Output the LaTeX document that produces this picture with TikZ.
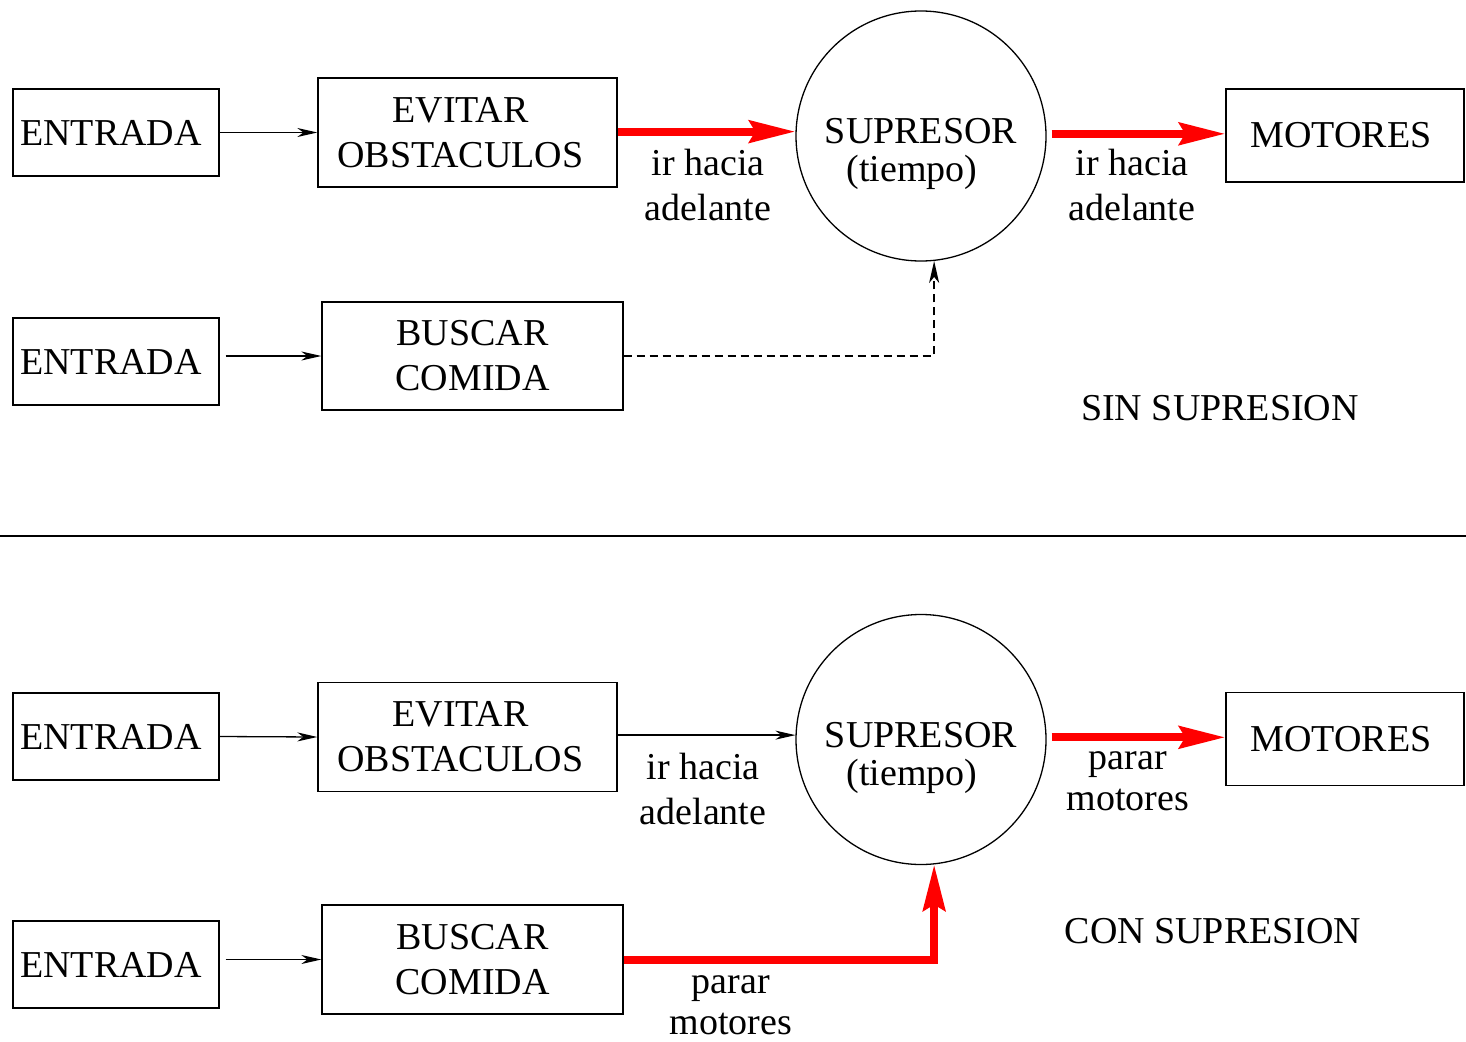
\documentclass[tikz,border=0pt]{standalone}
\usepackage{fontspec}
\setmainfont{Liberation Serif}
\usetikzlibrary{arrows.meta}
\begin{document}
\begin{tikzpicture}[x=1pt,y=-1pt,
  font=\fontsize{38}{45}\selectfont,
  bx/.style={draw, line width=1.3pt, inner sep=0pt, align=center},
  sup/.style={draw, circle, line width=1.3pt, inner sep=0pt, minimum size=250pt},
  lbl/.style={inner sep=0pt, align=center},
  thinarrow/.style={line width=1.3pt, -{Stealth[length=20pt, width=9pt, inset=6pt]}},
  redarrow/.style={draw=red, line width=8pt, -{Stealth[length=46pt, width=22pt, inset=6pt]}, red},
  dashline/.style={line width=1.3pt, dash pattern=on 8pt off 5pt, -{Stealth[length=22pt, width=10pt, inset=6pt]}}
]
\useasboundingbox (0,0) rectangle (1466,1041);

% ---------- top panel ----------
\node[bx, minimum width=206pt, minimum height=87pt] (e1) at (116,132.5) {\raisebox{-4pt}{ENTRADA}\hspace*{10pt}};
\node[bx, minimum width=299pt, minimum height=109pt] (ev1) at (467.5,132.5) {EVITAR\hspace*{14pt}\\OBSTACULOS\hspace*{14pt}};
\node[sup] (s1) at (921,136) {};
\node[lbl] (s1a) at (921,131) {SUPRESOR};
\node[lbl] (s1b) at (912,172) {(tiempo)};
\node[bx, minimum width=238pt, minimum height=93pt] (m1) at (1345,135.5) {\raisebox{-2pt}{MOTORES}\hspace*{8pt}};
\node[bx, minimum width=206pt, minimum height=87pt] (e2) at (116,361.5) {\raisebox{-4pt}{ENTRADA}\hspace*{10pt}};
\node[bx, minimum width=301pt, minimum height=108pt] (b1) at (472.5,356) {BUSCAR\\COMIDA};

\draw[thinarrow] (e1.east) -- (ev1.west);
\draw[thinarrow] (e2.east |- b1.west) ++(6,0) -- (b1.west);
\draw[redarrow] (ev1.east |- s1.178.2) -- (s1.178.2);
\draw[redarrow, shorten <=5pt] (s1.1.8) -- (s1.1.8 -| m1.west);
\draw[dashline] (b1.east) -| (s1.-84.5);

\node[lbl] (l1) at (708,185) {ir hacia\\adelante};
\node[lbl] (l2) at (1132,185) {ir hacia\\adelante};
\node[lbl] (t1) at (1220,408) {SIN SUPRESION};

% ---------- divider ----------
\draw[line width=1.3pt] (0,536) -- (1466,536);

% ---------- bottom panel ----------
\node[bx, minimum width=206pt, minimum height=87pt] (e3) at (116,736.5) {\raisebox{-4pt}{ENTRADA}\hspace*{10pt}};
\node[bx, minimum width=299pt, minimum height=109pt] (ev2) at (467.5,737) {EVITAR\hspace*{14pt}\\OBSTACULOS\hspace*{14pt}};
\node[sup] (s2) at (921,739.5) {};
\node[lbl] (s2a) at (921,735) {SUPRESOR};
\node[lbl] (s2b) at (912,776) {(tiempo)};
\node[bx, minimum width=238pt, minimum height=93pt] (m2) at (1345,739) {\raisebox{-2pt}{MOTORES}\hspace*{8pt}};
\node[bx, minimum width=206pt, minimum height=87pt] (e4) at (116,964.5) {\raisebox{-4pt}{ENTRADA}\hspace*{10pt}};
\node[bx, minimum width=301pt, minimum height=109pt] (b2) at (472.5,959.5) {BUSCAR\\COMIDA};

\draw[thinarrow] (e3.east) -- (ev2.west);
\draw[thinarrow] (e4.east |- b2.west) ++(6,0) -- (b2.west);
\draw[thinarrow] (ev2.east |- s2.178.8) -- (s2.178.8);
\draw[redarrow, shorten <=5pt] (s2.1.6) -- (s2.1.6 -| m2.west);
\draw[redarrow] (b2.east) -| (s2.-84.5);

\node[lbl] (l3) at (703,789) {ir hacia\\adelante};
\node[lbl, font=\fontsize{38}{41}\selectfont] (l4) at (1128,781) {parar\\motores};
\node[lbl, font=\fontsize{38}{41}\selectfont] (l5) at (731,1005) {parar\\motores};
\node[lbl] (t2) at (1213,931) {CON SUPRESION};
\end{tikzpicture}
\end{document}
